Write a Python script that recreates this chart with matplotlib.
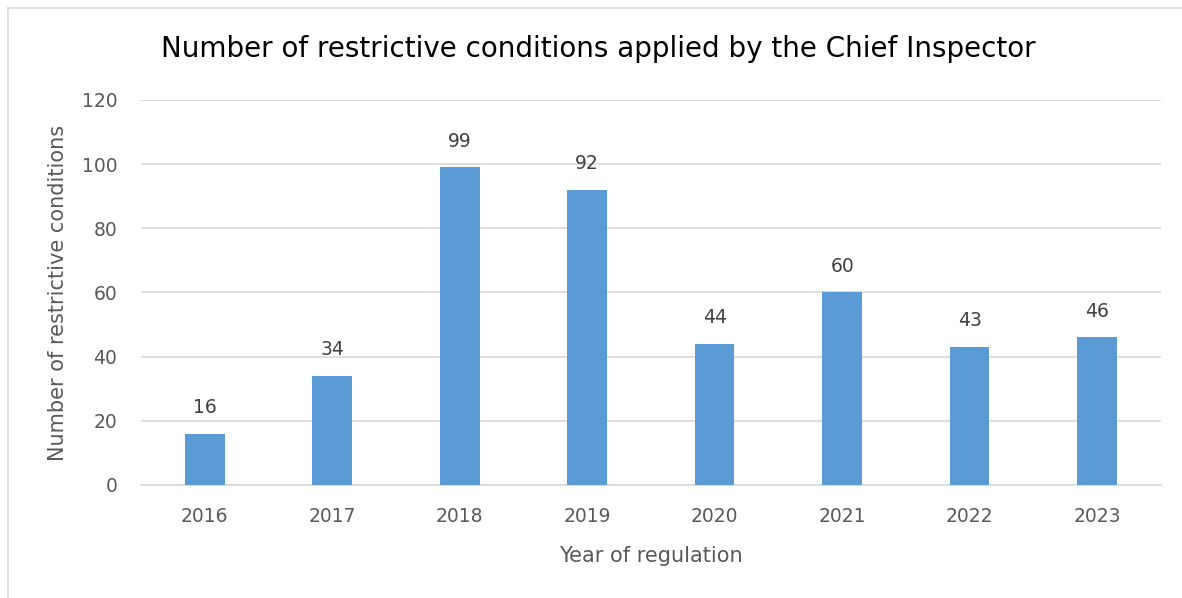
import matplotlib
matplotlib.use('Agg')
from matplotlib import pyplot as plt
from matplotlib.lines import Line2D

years = ['2016', '2017', '2018', '2019', '2020', '2021', '2022', '2023']
conditions = [16, 34, 99, 92, 44, 60, 43, 46]
y_ticks = [0, 20, 40, 60, 80, 100, 120]

plt.rcParams['font.family'] = 'DejaVu Sans'
grey = '#595959'

fig = plt.figure(figsize=(11.82, 5.98), dpi=100)
ax = fig.add_axes([0.1193, 0.189, 0.8629, 0.6438])

x = range(len(years))
bars = ax.bar(x, conditions, width=0.31, color='#5b9bd5', zorder=3)
for b, v in zip(bars, conditions):
    ax.annotate(str(v), (b.get_x() + b.get_width() / 2, v), xytext=(0, 12),
                textcoords='offset points', ha='center', va='bottom',
                fontsize=13.5, color='#404040')

ax.set_xlim(-0.5, len(years) - 0.5)
ax.set_ylim(0, 120)
ax.set_yticks(y_ticks)
ax.set_xticks(list(x))
ax.set_xticklabels(years)
ax.tick_params(axis='both', length=0, labelsize=13.5, labelcolor=grey)
ax.tick_params(axis='y', pad=17)
ax.tick_params(axis='x', pad=16)
ax.grid(axis='y', color='#d9d9d9', linewidth=1.2, zorder=0)
for s in ['top', 'right', 'left']:
    ax.spines[s].set_visible(False)
ax.spines['bottom'].set_color('#d9d9d9')
ax.spines['bottom'].set_linewidth(1.2)

ax.set_xlabel('Year of regulation', fontsize=15, color=grey, labelpad=14)
ax.set_ylabel('Number of restrictive conditions', fontsize=15, color=grey, labelpad=10)
fig.text(0.506, 0.918, 'Number of restrictive conditions applied by the Chief Inspector',
         ha='center', va='center', fontsize=20, color='black')

# chart frame (left and top edges)
fig.add_artist(Line2D([0.007, 0.007], [0.0, 0.987], color='#d9d9d9', linewidth=1.2))
fig.add_artist(Line2D([0.007, 1.0], [0.987, 0.987], color='#d9d9d9', linewidth=1.2))

plt.savefig('out.png', dpi=100)
